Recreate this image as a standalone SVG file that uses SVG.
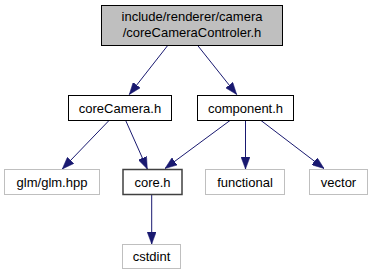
<svg xmlns="http://www.w3.org/2000/svg" width="373" height="276" viewBox="0 0 373 276">
  <style>
    text { font-family: "Liberation Sans", Arial, sans-serif; font-size: 13px; fill: #000000; text-anchor: middle; }
    .main rect { fill: #bfbfbf; stroke: #000000; stroke-width: 1; }
    .doc rect { fill: #ffffff; stroke: #000000; stroke-width: 1; }
    .hub rect { fill: #ffffff; stroke: #404040; stroke-width: 1.5; }
    .ext rect { fill: #ffffff; stroke: #bfbfbf; stroke-width: 1; }
    .edge { fill: none; stroke: #191970; stroke-width: 1; marker-end: url(#arrow); }
  </style>
  <defs>
    <marker id="arrow" markerUnits="userSpaceOnUse" markerWidth="12" markerHeight="9" refX="12" refY="4.5" orient="auto">
      <path d="M0,0 L12,4.5 L0,9 z" fill="#191970" stroke="#191970" stroke-width="0.5"/>
    </marker>
  </defs>
  <rect width="373" height="276" fill="#ffffff"/>

  <g id="connectors">
    <path class="edge" d="M167.7,45.5 L129.3,94.5"/>
    <path class="edge" d="M197.7,45.5 L236.7,94.5"/>
    <path class="edge" d="M109,120.5 L62.3,169"/>
    <path class="edge" d="M125.7,120.5 L147.3,169"/>
    <path class="edge" d="M230,120.5 L165,168.5"/>
    <path class="edge" d="M245.5,120.5 L245.5,169"/>
    <path class="edge" d="M261,120.5 L324,168.5"/>
    <path class="edge" d="M151.7,195 L151.7,244"/>
  </g>

  <g id="node-coreCameraControler" class="main">
    <rect x="101.5" y="5.5" width="181" height="40"/>
    <text x="192" y="21">include/renderer/camera</text>
    <text x="192" y="37">/coreCameraControler.h</text>
  </g>
  <g id="node-coreCamera" class="doc">
    <rect x="68.5" y="95.5" width="103" height="25"/>
    <text x="120" y="112.5">coreCamera.h</text>
  </g>
  <g id="node-component" class="doc">
    <rect x="197.5" y="95.5" width="96" height="25"/>
    <text x="245.5" y="112.5">component.h</text>
  </g>
  <g id="node-glm" class="ext">
    <rect x="4.5" y="169.5" width="95" height="25"/>
    <text x="52" y="186.5">glm/glm.hpp</text>
  </g>
  <g id="node-core" class="hub">
    <rect x="123" y="169.5" width="59" height="25"/>
    <text x="152.5" y="186.5">core.h</text>
  </g>
  <g id="node-functional" class="ext">
    <rect x="205.5" y="169.5" width="79" height="25"/>
    <text x="245" y="186.5">functional</text>
  </g>
  <g id="node-vector" class="ext">
    <rect x="309.5" y="169.5" width="58" height="25"/>
    <text x="338.5" y="186.5">vector</text>
  </g>
  <g id="node-cstdint" class="ext">
    <rect x="122.5" y="244.5" width="58" height="24"/>
    <text x="151.5" y="261">cstdint</text>
  </g>
</svg>
